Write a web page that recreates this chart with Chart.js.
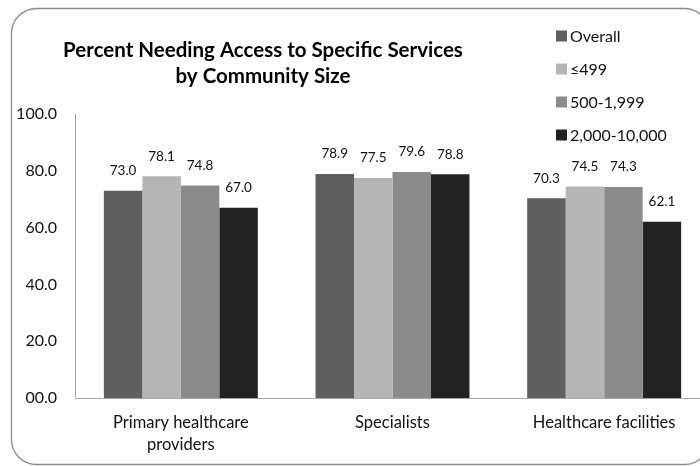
<!DOCTYPE html>
<html><head><meta charset="utf-8">
<script src="https://cdn.jsdelivr.net/npm/chart.js@4.4.1/dist/chart.umd.min.js"></script>
<style>
html,body{margin:0;padding:0;background:#fff;overflow:hidden;width:700px;height:466px}
canvas{display:block}
</style></head>
<body>
<canvas id="c" width="720" height="466" style="width:720px;height:466px"></canvas>
<script>
// ---- data ----
const categories = [['Primary healthcare', 'providers'], 'Specialists', 'Healthcare facilities'];
const seriesNames = ['Overall', '≤499', '500-1,999', '2,000-10,000'];
const overall   = [73.0, 78.9, 70.3];
const upTo499   = [78.1, 77.5, 74.5];
const from500   = [74.8, 79.6, 74.3];
const from2000  = [67.0, 78.8, 62.1];
const yTickLabels = ['00.0', '20.0', '40.0', '60.0', '80.0', '100.0'];
const titleLines = ['Percent Needing Access to Specific Services', 'by Community Size'];

// ---- styles ----
const colors = ['#5f5f5f', '#b5b5b5', '#8b8b8b', '#222222'];
const FONT = 'Lato, "Open Sans", sans-serif';
const seriesValues = [overall, upTo499, from500, from2000];

const framePlugin = {
  id: 'frame',
  beforeDraw(chart) {
    const ctx = chart.ctx;
    ctx.save();
    ctx.fillStyle = '#fff';
    ctx.fillRect(0, 0, chart.width, chart.height);
    const x = 11.5, y = 8.5, w = 698, h = 456, r = 25;
    ctx.beginPath();
    ctx.moveTo(x + r, y);
    ctx.lineTo(x + w - r, y);
    ctx.arcTo(x + w, y, x + w, y + r, r);
    ctx.lineTo(x + w, y + h - r);
    ctx.arcTo(x + w, y + h, x + w - r, y + h, r);
    ctx.lineTo(x + r, y + h);
    ctx.arcTo(x, y + h, x, y + h - r, r);
    ctx.lineTo(x, y + r);
    ctx.arcTo(x, y, x + r, y, r);
    ctx.closePath();
    ctx.strokeStyle = '#8c8c8c';
    ctx.lineWidth = 1.3;
    ctx.stroke();
    ctx.restore();
  },
  afterDraw(chart) {
    const ctx = chart.ctx;
    ctx.save();
    // title
    ctx.fillStyle = '#000';
    ctx.font = 'bold 20.5px ' + FONT;
    ctx.textAlign = 'center';
    ctx.textBaseline = 'alphabetic';
    titleLines.forEach((t, i) => ctx.fillText(t, 263, 57 + i * 26));
    // legend
    ctx.font = '16px ' + FONT;
    ctx.textAlign = 'left';
    ctx.textBaseline = 'middle';
    chart.data.datasets.forEach((ds, i) => {
      const cy = 36 + i * 33;
      ctx.fillStyle = ds.backgroundColor;
      ctx.fillRect(556, cy - 5.5, 11, 11);
      ctx.fillStyle = '#111';
      ctx.fillText(ds.label, 570, cy + 1);
    });
    ctx.restore();
  },
  afterDatasetsDraw(chart) {
    const ctx = chart.ctx;
    ctx.save();
    ctx.font = '13.5px ' + FONT;
    ctx.fillStyle = '#111';
    ctx.textAlign = 'center';
    ctx.textBaseline = 'middle';
    chart.data.datasets.forEach((ds, di) => {
      chart.getDatasetMeta(di).data.forEach((el, j) => {
        ctx.fillText(ds.data[j].toFixed(1), el.x, el.y - 20);
      });
    });
    ctx.restore();
  }
};

new Chart(document.getElementById('c'), {
  type: 'bar',
  data: {
    labels: categories,
    datasets: seriesNames.map((n, i) => ({
      label: n,
      data: seriesValues[i],
      backgroundColor: colors[i],
      borderWidth: 0,
      categoryPercentage: 4 / 5.5,
      barPercentage: 1.0
    }))
  },
  options: {
    responsive: false,
    devicePixelRatio: 1,
    animation: false,
    layout: { padding: { left: 0, right: 10, top: 114, bottom: 0 } },
    plugins: { legend: { display: false }, title: { display: false }, tooltip: { enabled: false } },
    scales: {
      x: {
        grid: { display: false, drawTicks: false },
        border: { display: true, color: '#a6a6a6', width: 1 },
        ticks: { color: '#111', font: { family: FONT, size: 16.5, lineHeight: 1.33 }, padding: 14, maxRotation: 0, autoSkip: false },
        afterFit(s) { s.height = 68; }
      },
      y: {
        min: 0, max: 100,
        grid: { display: false, drawTicks: false },
        border: { display: true, color: '#a6a6a6', width: 1 },
        ticks: {
          stepSize: 20, padding: 18, color: '#111',
          font: { family: FONT, size: 16 },
          callback: (v) => yTickLabels[Math.round(v / 20)]
        },
        afterFit(s) { s.width = 75; }
      }
    }
  },
  plugins: [framePlugin]
});
</script>
</body></html>
